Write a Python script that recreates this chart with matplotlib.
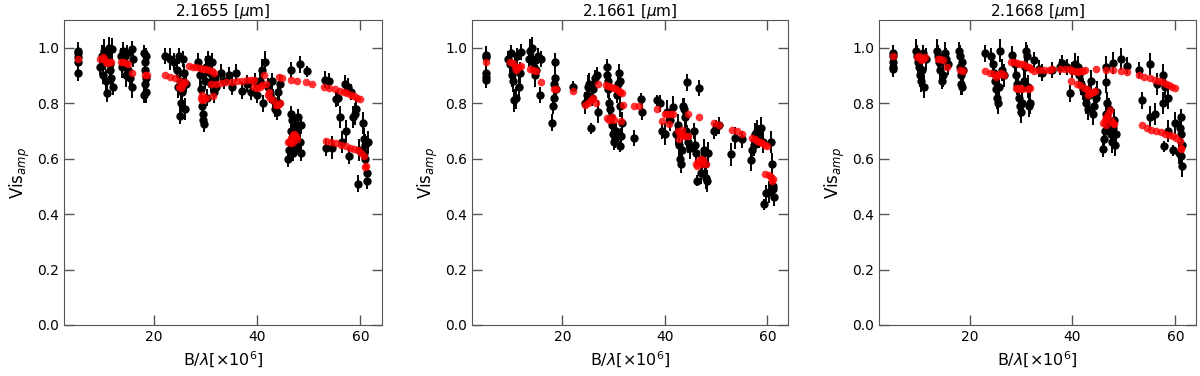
import matplotlib
matplotlib.use('Agg')
import matplotlib.pyplot as plt

titles = ['2.1655 [$\\mu$m]', '2.1661 [$\\mu$m]', '2.1668 [$\\mu$m]']

# ---- 2.1655 um : observed (black, with errors)
x1 = [5.3, 5.3, 5.3, 5.3, 5.3,
      9.5, 9.8, 10.0, 10.1, 10.2, 10.4, 10.6, 10.8, 11.0, 11.2, 11.4, 11.5, 11.6, 11.8, 12.0,
      13.6, 13.8, 14.0, 14.2, 14.4, 14.5, 14.8, 15.0, 15.3, 15.6, 15.6, 15.8,
      18.0, 18.1, 18.2, 18.2, 18.3, 18.4, 18.5, 18.5,
      22.0, 23.0, 23.8, 24.5, 24.6, 24.8, 25.0, 25.0, 25.2, 25.4, 25.6, 25.8, 26.0, 26.2,
      28.5, 28.8, 29.0, 29.2, 29.4, 29.5, 29.6, 29.8, 30.0, 30.2, 30.5, 30.8, 31.0, 31.3, 31.6, 31.8, 32.0,
      33.0, 33.5, 34.5, 35.0, 35.8, 37.0, 38.0, 38.8, 39.5,
      40.0, 40.5, 41.0, 41.2, 41.5, 42.0, 42.5, 42.8, 43.0, 43.5, 43.8, 44.0, 44.3, 44.5,
      46.0, 46.2, 46.4, 46.5, 46.6, 46.8, 47.0, 47.2, 47.4, 47.6, 47.8, 48.0, 48.2, 48.4, 48.5,
      46.5, 48.3, 49.7,
      53.2, 53.3, 54.0, 54.5, 55.3, 55.6, 56.0, 56.5, 57.0, 57.2, 57.6, 57.8, 58.2, 58.5, 59.0, 59.2,
      59.5, 59.8, 60.6, 60.8, 60.8, 61.0, 61.0, 61.2, 61.2, 61.4]
y1 = [0.99, 0.98, 0.965, 0.95, 0.91,
      0.93, 0.97, 0.90, 0.96, 0.99, 0.95, 0.88, 0.835, 0.97, 1.00, 0.92, 0.94, 0.89, 0.995, 0.86,
      0.97, 0.93, 0.99, 0.95, 0.97, 0.90, 0.98, 0.92, 0.89, 0.995, 0.86, 0.96,
      0.98, 0.83, 0.95, 0.92, 0.87, 0.84, 0.97, 0.89,
      0.97, 0.96, 0.95, 0.92, 0.86, 0.97, 0.88, 0.755, 0.80, 0.84, 0.96, 0.91, 0.78, 0.87,
      0.95, 0.90, 0.85, 0.79, 0.76, 0.74, 0.725, 0.88, 0.93, 0.82, 0.96, 0.91, 0.87, 0.95, 0.84, 0.89, 0.86,
      0.91, 0.88, 0.90, 0.86, 0.91, 0.845, 0.87, 0.84, 0.88,
      0.83, 0.88, 0.92, 0.80, 0.95, 0.86, 0.83, 0.88, 0.81, 0.78, 0.77, 0.84, 0.80, 0.87,
      0.60, 0.63, 0.66, 0.76, 0.70, 0.74, 0.62, 0.68, 0.72, 0.64, 0.70, 0.75, 0.66, 0.62, 0.72,
      0.92, 0.94, 0.915,
      0.885, 0.64, 0.88, 0.64, 0.815, 0.82, 0.75, 0.66, 0.87, 0.70, 0.86, 0.61, 0.84, 0.75, 0.76, 0.78,
      0.51, 0.63, 0.73, 0.67, 0.62, 0.65, 0.60, 0.55, 0.52, 0.66]
e1 = [0.03, 0.03, 0.025, 0.03, 0.03,
      0.03, 0.04, 0.03, 0.03, 0.04, 0.03, 0.04, 0.03, 0.04, 0.04, 0.03, 0.03, 0.04, 0.04, 0.03,
      0.03, 0.04, 0.03, 0.03, 0.03, 0.04, 0.03, 0.03, 0.04, 0.03, 0.04, 0.03,
      0.03, 0.03, 0.04, 0.03, 0.03, 0.04, 0.03, 0.03,
      0.03, 0.04, 0.03, 0.03, 0.04, 0.03, 0.03, 0.03, 0.04, 0.04, 0.03, 0.03, 0.04, 0.03,
      0.03, 0.04, 0.03, 0.03, 0.04, 0.03, 0.03, 0.03, 0.04, 0.03, 0.03, 0.04, 0.03, 0.03, 0.04, 0.03, 0.03,
      0.03, 0.03, 0.03, 0.03, 0.03, 0.03, 0.03, 0.03, 0.03,
      0.03, 0.03, 0.04, 0.03, 0.04, 0.03, 0.03, 0.03, 0.04, 0.03, 0.03, 0.03, 0.03, 0.03,
      0.03, 0.03, 0.03, 0.03, 0.03, 0.03, 0.03, 0.03, 0.03, 0.03, 0.03, 0.03, 0.03, 0.03, 0.03,
      0.03, 0.03, 0.02,
      0.03, 0.03, 0.03, 0.04, 0.03, 0.03, 0.04, 0.04, 0.03, 0.04, 0.03, 0.03, 0.03, 0.04, 0.04, 0.04,
      0.03, 0.04, 0.04, 0.04, 0.03, 0.04, 0.03, 0.03, 0.03, 0.04]
# model (red)
xr1 = [5.3,
       9.5, 10.0, 10.3, 10.6, 10.9, 11.2, 11.6,
       13.5, 14.0, 14.5, 15.0, 15.6,
       18.2, 18.6,
       22.0, 23.0, 24.0, 25.0, 25.5, 26.0, 24.8, 25.2,
       26.8, 27.5, 28.2, 28.8, 29.4, 30.0, 30.6, 31.2, 31.6,
       29.0, 29.3, 29.6, 30.0, 31.5, 29.2,
       31.0, 32.0, 33.0, 34.0, 35.0, 36.0, 37.0, 38.0, 38.8, 39.3,
       39.4, 40.0, 40.5, 41.0, 41.7, 41.4, 42.0, 42.5, 43.0, 43.6, 44.0, 44.5, 42.3, 44.3, 44.8,
       46.0, 46.3, 46.6, 46.9, 47.2, 47.5, 47.8, 46.5, 47.0,
       46.5, 47.8, 49.5, 50.6,
       53.0, 54.0, 55.0, 56.0, 56.8, 57.5, 58.2, 58.8, 59.4, 59.9,
       53.3, 54.3, 55.3, 56.3, 57.2, 58.0, 58.8, 59.5, 60.2, 60.8, 61.0, 61.1]
yr1 = [0.96,
       0.96, 0.965, 0.96, 0.95, 0.945, 0.95, 0.95,
       0.95, 0.95, 0.945, 0.94, 0.91,
       0.90, 0.90,
       0.90, 0.895, 0.89, 0.88, 0.87, 0.875, 0.86, 0.855,
       0.935, 0.932, 0.93, 0.928, 0.925, 0.922, 0.92, 0.915, 0.91,
       0.82, 0.81, 0.815, 0.82, 0.825, 0.83,
       0.87, 0.87, 0.872, 0.875, 0.878, 0.88, 0.88, 0.882, 0.883, 0.883,
       0.86, 0.855, 0.86, 0.865, 0.87, 0.90, 0.83, 0.82, 0.81, 0.795, 0.795, 0.80, 0.84, 0.895, 0.89,
       0.66, 0.665, 0.675, 0.685, 0.69, 0.68, 0.67, 0.655, 0.66,
       0.885, 0.88, 0.875, 0.87,
       0.86, 0.855, 0.85, 0.845, 0.84, 0.835, 0.83, 0.825, 0.82, 0.815,
       0.665, 0.66, 0.655, 0.65, 0.645, 0.64, 0.635, 0.63, 0.62, 0.61, 0.57, 0.575]

# ---- 2.1661 um
x2 = [5.2, 5.2, 5.2, 5.2, 5.2,
      9.5, 9.8, 10.0, 10.2, 10.4, 10.6, 10.8, 11.0, 11.2, 11.5, 11.8, 12.0,
      13.6, 13.8, 14.0, 14.2, 14.4, 14.6, 14.8, 15.2, 15.6, 15.8,
      18.0, 18.2, 18.3, 18.4, 18.5, 18.6, 18.7,
      22.0,
      24.5, 24.8, 25.0, 25.3, 25.5, 25.8, 26.0, 26.3, 26.8, 27.0,
      28.7, 28.8, 28.9, 29.0, 29.2, 29.3, 29.5, 29.6, 29.8, 30.0, 30.2, 30.4, 30.6, 30.8, 31.0, 31.2, 31.3,
      31.2, 31.5, 31.7,
      34.0, 35.3, 35.5,
      38.5, 39.0, 39.5, 40.0, 40.5, 41.0, 41.5,
      42.2, 42.5, 42.8, 43.0, 43.2, 43.4, 43.6, 43.8, 44.0, 44.2, 44.4, 44.6, 44.8, 44.4,
      45.6, 45.8, 46.0, 46.2, 46.7, 47.0, 47.3, 47.6, 47.9, 48.1, 48.3, 48.5,
      49.5, 50.0, 50.6,
      52.8, 53.7, 55.1,
      56.7, 57.0, 57.3, 57.6, 58.0, 58.4, 58.8, 59.2, 59.4, 59.8, 60.2, 60.6, 60.8, 61.0, 61.1, 61.2]
y2 = [0.975, 0.965, 0.91, 0.895, 0.885,
      0.96, 0.94, 0.98, 0.90, 0.88, 0.81, 0.93, 0.82, 0.97, 0.86, 0.91, 0.985,
      0.96, 0.99, 1.00, 0.95, 0.93, 0.90, 0.92, 0.97, 0.83, 0.96,
      0.73, 0.79, 0.82, 0.87, 0.95, 0.89, 0.85,
      0.86,
      0.80, 0.83, 0.86, 0.87, 0.71, 0.82, 0.85, 0.89, 0.90, 0.77,
      0.93, 0.90, 0.88, 0.85, 0.80, 0.78, 0.75, 0.72, 0.69, 0.66, 0.67, 0.70, 0.83, 0.87, 0.91, 0.88, 0.79,
      0.645, 0.68, 0.73,
      0.675, 0.815, 0.77,
      0.81, 0.80, 0.70, 0.69, 0.77, 0.74, 0.785,
      0.69, 0.72, 0.65, 0.60, 0.58, 0.63, 0.79, 0.78, 0.75, 0.70, 0.68, 0.66, 0.64, 0.875,
      0.70, 0.65, 0.62, 0.52, 0.855, 0.55, 0.60, 0.63, 0.58, 0.53, 0.52, 0.62,
      0.70, 0.71, 0.72,
      0.615, 0.675, 0.67,
      0.595, 0.63, 0.65, 0.69, 0.70, 0.68, 0.71, 0.66, 0.435, 0.475, 0.48, 0.66, 0.58, 0.50, 0.49, 0.46]
e2 = [0.03, 0.03, 0.03, 0.03, 0.03,
      0.03, 0.04, 0.03, 0.04, 0.04, 0.04, 0.04, 0.04, 0.03, 0.04, 0.04, 0.03,
      0.03, 0.04, 0.04, 0.03, 0.04, 0.04, 0.03, 0.03, 0.03, 0.03,
      0.03, 0.03, 0.03, 0.03, 0.03, 0.03, 0.03,
      0.02,
      0.04, 0.03, 0.04, 0.04, 0.02, 0.03, 0.04, 0.03, 0.03, 0.04,
      0.03, 0.05, 0.04, 0.03, 0.04, 0.04, 0.03, 0.03, 0.04, 0.03, 0.03, 0.03, 0.03, 0.04, 0.03, 0.04, 0.04,
      0.02, 0.03, 0.04,
      0.03, 0.02, 0.03,
      0.02, 0.03, 0.03, 0.04, 0.04, 0.04, 0.04,
      0.04, 0.04, 0.04, 0.03, 0.03, 0.04, 0.03, 0.04, 0.04, 0.04, 0.04, 0.04, 0.04, 0.03,
      0.03, 0.04, 0.04, 0.02, 0.03, 0.04, 0.04, 0.04, 0.04, 0.04, 0.04, 0.04,
      0.03, 0.03, 0.03,
      0.04, 0.04, 0.03,
      0.04, 0.04, 0.04, 0.04, 0.04, 0.04, 0.04, 0.04, 0.02, 0.03, 0.04, 0.04, 0.04, 0.04, 0.04, 0.03]
xr2 = [5.2,
       9.8, 10.3, 10.8, 11.0, 11.5, 12.0,
       13.8, 14.3, 14.8, 15.8,
       18.3, 18.8,
       22.0,
       24.5, 25.0, 25.5, 26.0, 26.5, 27.0,
       28.5, 29.0, 29.5, 30.0, 30.5, 31.0, 31.3, 31.6,
       28.8, 29.2, 29.6, 30.0, 31.5, 31.8,
       34.0, 35.0,
       38.5, 39.5, 40.0, 40.5, 41.0, 41.5, 40.8,
       42.5, 43.0, 43.5, 44.0, 44.5, 42.8, 43.3,
       44.6, 46.7,
       46.0, 46.5, 47.0, 47.5, 48.0, 46.3, 47.3,
       49.5, 50.5,
       53.0, 54.0, 55.0,
       57.0, 57.5, 58.0, 58.5, 59.0, 59.5, 59.9,
       59.5, 60.2, 60.6, 61.0, 60.8]
yr2 = [0.95,
       0.95, 0.945, 0.93, 0.92, 0.93, 0.935,
       0.925, 0.92, 0.915, 0.875,
       0.85, 0.85,
       0.845,
       0.795, 0.80, 0.81, 0.82, 0.80, 0.87,
       0.865, 0.862, 0.86, 0.855, 0.85, 0.845, 0.84, 0.835,
       0.745, 0.74, 0.75, 0.74, 0.735, 0.795,
       0.79, 0.79,
       0.78, 0.735, 0.76, 0.76, 0.76, 0.76, 0.725,
       0.70, 0.69, 0.685, 0.68, 0.68, 0.67, 0.705,
       0.76, 0.75,
       0.58, 0.59, 0.60, 0.595, 0.58, 0.575, 0.58,
       0.73, 0.72,
       0.705, 0.70, 0.69,
       0.675, 0.67, 0.665, 0.66, 0.655, 0.65, 0.645,
       0.545, 0.54, 0.535, 0.525, 0.52]

# ---- 2.1668 um
x3 = [5.2, 5.2, 5.2, 5.2, 5.2,
      9.5, 9.8, 10.0, 10.2, 10.4, 10.6, 10.8, 11.0, 11.2, 11.5,
      13.6, 13.9, 14.1, 14.3, 14.6, 14.9, 15.2, 15.5, 15.8,
      18.0, 18.1, 18.2, 18.3, 18.4, 18.5, 18.6, 18.7,
      23.0,
      24.2, 24.5, 24.8, 25.0, 25.2, 25.4, 25.6, 25.8, 26.0, 26.3, 26.6,
      28.3, 28.8, 29.0, 29.2, 29.4, 29.6, 29.8, 30.0, 30.2, 30.5, 30.8, 31.0, 31.2, 31.4, 31.6, 31.8,
      32.5, 33.5, 34.0, 36.0, 37.5, 38.0, 39.0, 39.5, 40.0,
      40.5, 41.0, 41.3, 41.6, 42.0, 42.3, 42.6, 43.0, 43.3, 43.6, 43.9, 44.2, 44.5, 44.8,
      46.0, 46.2, 46.4, 46.5, 46.6, 46.8, 47.0, 47.2, 47.4, 47.6, 47.8, 48.0, 48.2, 48.4, 46.5, 46.5, 47.8,
      49.5, 50.5,
      53.0, 53.5, 55.0, 55.0, 56.0, 56.5, 57.5, 57.5, 58.0, 57.8, 58.5, 58.5, 59.5, 60.0, 61.0, 60.8,
      61.0, 61.2, 61.0, 61.2, 60.6]
y3 = [0.98, 0.97, 0.95, 0.93, 0.925,
      0.99, 0.97, 0.95, 0.93, 0.90, 0.88, 0.92, 0.98, 0.86, 0.96,
      0.99, 0.97, 0.95, 0.92, 0.88, 0.90, 0.98, 0.96, 0.94,
      0.99, 0.97, 0.93, 0.90, 0.87, 0.86, 0.95, 0.92,
      0.98,
      0.97, 0.94, 0.91, 0.88, 0.85, 0.82, 0.80, 0.86, 0.99, 0.92, 0.90,
      0.975, 0.94, 0.90, 0.87, 0.85, 0.82, 0.79, 0.77, 0.80, 0.88, 0.93, 0.99, 0.97, 0.86, 0.79, 0.80,
      0.955, 0.925, 0.91, 0.92, 0.93, 0.945, 0.93, 0.835, 0.92,
      0.94, 0.93, 0.90, 0.87, 0.85, 0.84, 0.80, 0.78, 0.83, 0.88, 0.76, 0.79, 0.82, 0.84,
      0.635, 0.67, 0.70, 0.73, 0.76, 0.80, 0.78, 0.72, 0.69, 0.66, 0.71, 0.74, 0.65, 0.69, 0.875, 0.93, 0.945,
      0.96, 0.935,
      0.92, 0.81, 0.94, 0.75, 0.76, 0.87, 0.90, 0.80, 0.86, 0.645, 0.82, 0.70, 0.63, 0.73, 0.75, 0.71,
      0.69, 0.65, 0.61, 0.575, 0.62]
e3 = [0.03, 0.03, 0.03, 0.03, 0.03,
      0.04, 0.04, 0.04, 0.04, 0.04, 0.04, 0.04, 0.03, 0.04, 0.04,
      0.04, 0.04, 0.04, 0.04, 0.03, 0.04, 0.04, 0.04, 0.04,
      0.03, 0.04, 0.04, 0.04, 0.04, 0.03, 0.04, 0.04,
      0.03,
      0.03, 0.04, 0.04, 0.04, 0.04, 0.04, 0.04, 0.04, 0.04, 0.04, 0.04,
      0.03, 0.04, 0.04, 0.04, 0.04, 0.04, 0.04, 0.04, 0.04, 0.04, 0.04, 0.03, 0.04, 0.04, 0.04, 0.04,
      0.03, 0.03, 0.03, 0.03, 0.03, 0.03, 0.03, 0.03, 0.03,
      0.04, 0.04, 0.04, 0.04, 0.04, 0.04, 0.04, 0.04, 0.04, 0.04, 0.04, 0.04, 0.04, 0.04,
      0.03, 0.04, 0.04, 0.04, 0.04, 0.04, 0.04, 0.04, 0.04, 0.04, 0.04, 0.04, 0.04, 0.04, 0.04, 0.04, 0.04,
      0.04, 0.03,
      0.03, 0.03, 0.04, 0.04, 0.04, 0.04, 0.04, 0.04, 0.04, 0.02, 0.04, 0.04, 0.02, 0.04, 0.03, 0.04,
      0.04, 0.04, 0.04, 0.04, 0.04]
xr3 = [5.2,
       9.8, 10.2, 10.6, 11.0, 11.4,
       13.8, 14.3, 14.8, 15.6,
       18.2, 18.7,
       23.0, 24.0, 24.8, 25.2, 25.6, 26.2, 26.6,
       28.0, 28.6, 29.2, 29.8, 30.4, 31.0, 31.5, 32.0,
       29.0, 29.4, 29.8, 30.2, 31.8, 31.4,
       32.5, 33.5, 34.5, 35.5, 36.0, 37.5, 38.5, 39.5,
       40.0, 40.5, 41.0, 41.5, 42.0, 42.5, 39.8, 40.8, 41.5, 42.2, 42.8, 43.2, 43.6, 44.0, 44.4, 43.0, 44.5,
       46.0, 46.3, 46.6, 46.9, 47.2, 47.5, 47.8, 48.0, 46.5,
       46.5, 47.8, 49.5, 50.5,
       53.0, 53.8, 55.0, 56.0, 56.8, 57.5, 58.2, 58.8, 59.4, 59.9,
       53.5, 54.5, 55.3, 56.3, 57.2, 58.0, 58.8, 59.5, 60.2, 60.8, 61.0, 61.1]
yr3 = [0.97,
       0.965, 0.97, 0.955, 0.96, 0.965,
       0.96, 0.96, 0.955, 0.93,
       0.92, 0.915,
       0.915, 0.91, 0.905, 0.895, 0.90, 0.91, 0.90,
       0.95, 0.948, 0.945, 0.942, 0.94, 0.935, 0.93, 0.925,
       0.855, 0.85, 0.855, 0.85, 0.855, 0.85,
       0.915, 0.918, 0.92, 0.92, 0.922, 0.922, 0.925, 0.925,
       0.915, 0.915, 0.912, 0.915, 0.915, 0.918, 0.88, 0.87, 0.865, 0.855, 0.85, 0.84, 0.835, 0.84, 0.845, 0.83, 0.925,
       0.73, 0.74, 0.75, 0.76, 0.775, 0.74, 0.73, 0.725, 0.72,
       0.92, 0.918, 0.915, 0.912,
       0.90, 0.895, 0.89, 0.885, 0.88, 0.875, 0.87, 0.865, 0.86, 0.855,
       0.72, 0.71, 0.705, 0.70, 0.695, 0.69, 0.685, 0.68, 0.675, 0.665, 0.635, 0.64]

obs = [(x1, y1, e1), (x2, y2, e2), (x3, y3, e3)]
mod = [(xr1, yr1), (xr2, yr2), (xr3, yr3)]

fig = plt.figure(figsize=(12, 3.76), dpi=100)
lefts = [64, 472, 879]
widths = [318, 316, 317]

for i in range(3):
    ax = fig.add_axes([lefts[i] / 1200, 1 - 325 / 376, widths[i] / 1200, 305 / 376])
    xs, ys, es = obs[i]
    ax.errorbar(xs, ys, yerr=es, fmt='o', color='black', ms=5, elinewidth=1.4, capsize=0, zorder=2)
    xr, yr = mod[i]
    ax.plot(xr, yr, 'o', color='red', ms=5.5, alpha=0.8, mec='none', zorder=3)

    ax.set_ylim(0, 1.1)
    ax.set_yticks([0.0, 0.2, 0.4, 0.6, 0.8, 1.0])
    ax.set_xticks([20, 40, 60])
    ax.tick_params(direction='in', top=True, right=True, length=7, width=1,
                   color='#555555', labelsize=10)
    for s in ax.spines.values():
        s.set_color('#555555')
    ax.set_title(titles[i], fontsize=11, pad=3)
    ax.set_xlabel('B/$\\lambda$[$\\times10^6$]', fontsize=11.5)
    ax.set_ylabel('Vis$_{amp}$', fontsize=12)

fig.savefig('out.png', dpi=100)
